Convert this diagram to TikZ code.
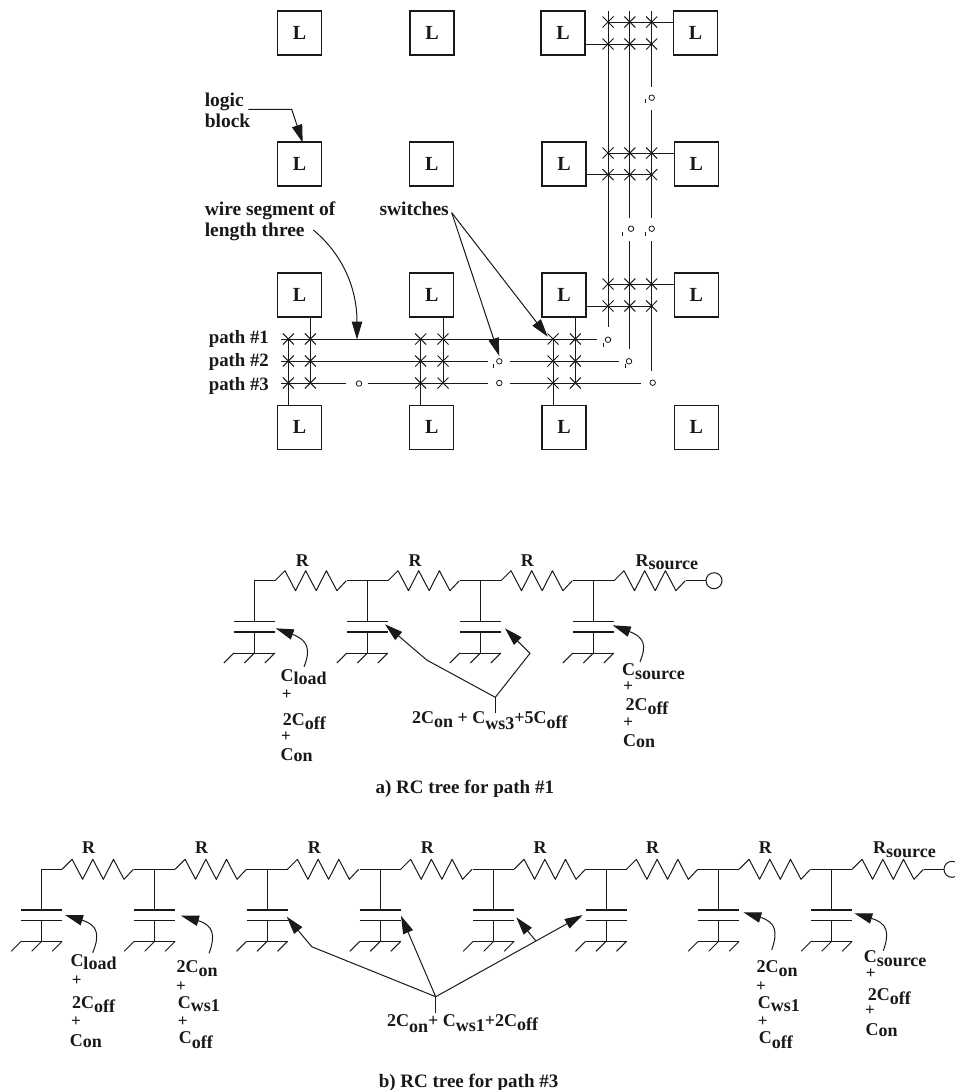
\documentclass[tikz,border=0pt]{standalone}
\usepackage{fontspec}
\setmainfont{Liberation Serif}
\usetikzlibrary{arrows.meta}
\newcommand{\dn}[2]{\lower #1pt\hbox{#2}}
\newcommand{\fs}[1]{\fontsize{#1}{#1}\selectfont\bfseries}
\tikzset{
  x=1pt,y=-1pt,
  lblock/.style={draw,line width=1.1pt,minimum size=44pt,inner sep=0pt,font=\fs{20}},
  lab/.style={anchor=base west,inner sep=0pt,font=\fs{18}},
  big/.style={anchor=base west,inner sep=0pt,font=\fs{19.5}},
  plus/.style={inner sep=0pt,font=\fs{17}},
  rlab/.style={inner sep=0pt,font=\fs{18},anchor=base},
  sw/.style={circle,draw,line width=0.8pt,minimum size=5.5pt,inner sep=0pt},
  hd/.style={-{Stealth[length=18pt,width=10.5pt,inset=0pt]}},
  term/.style={circle,draw,line width=1pt,minimum size=16pt,inner sep=0pt},
}
\newcommand{\xsw}[2]{\draw (#1-5.5,#2-5.5) -- (#1+5.5,#2+5.5) (#1-5.5,#2+5.5) -- (#1+5.5,#2-5.5);}
\newcommand{\tck}[2]{\draw (#1,#2) -- (#1,#2+4);}
\newcommand{\res}[2]{\draw[line join=round] (#1,#2) -- ++(10,-10) -- ++(10.5,20) -- ++(10.2,-20) -- ++(10.5,20) -- ++(10.2,-20) -- ++(10.5,20) -- ++(9.4,-10);}
% x, wire y, top plate y
\newcommand{\capg}[3]{%
  \draw (#1,#2) -- (#1,#3);
  \draw[line width=1.2pt] (#1-20.5,#3) -- (#1+20.5,#3);
  \draw[line width=1.2pt] (#1-20.5,#3+10.3) -- (#1+20.5,#3+10.3);
  \draw (#1,#3+10.3) -- (#1,#3+31.3);
  \draw (#1-20.5,#3+31.3) -- (#1+20.5,#3+31.3);
  \foreach \dx in {-20.5,0,20.5} \draw (#1+\dx,#3+31.3) -- ++(-10,10);
}
\begin{document}
\begin{tikzpicture}[line width=1pt,color=black!90]
\useasboundingbox (0,0) rectangle (954,1090);
% logic blocks
\foreach \n/\cx/\cy in {a1/299.5/33,a2/432/33,a3/563/33,a4/695.5/33,
  b1/299.5/164,b2/431.7/164,b3/564/164,b4/696.3/164,
  c1/299.5/295,c2/431.9/295,c3/564/295,c4/696.3/295,
  d1/299.5/427.3,d2/431.9/427.3,d3/564/427.3,d4/696.3/427.3}
  \node[lblock] (\n) at (\cx,\cy) {L};
% horizontal tracks
\coordinate (ps) at (281,339);
\coordinate (p1e) at (596.7,339);
\node[sw] (s1) at (608,339.7) {};
\node[sw] (s2a) at (499.3,361.3) {};
\node[sw] (s2b) at (629,361.3) {};
\node[sw] (s3a) at (359,383.5) {};
\node[sw] (s3b) at (499.3,383) {};
\node[sw] (s3c) at (652.7,382.7) {};
\node[sw] (v1) at (651.7,97.7) {};
\node[sw] (v2) at (631,228.7) {};
\node[sw] (v3) at (651.7,228.7) {};
\draw (281,339) -- (p1e);
\draw (281,361) -- (488.3,361) (510,361) -- (619,361);
\draw (281,383) -- (345.7,383) (368,383) -- (488.3,383) (510,383) -- (641,383);
% verticals at the horizontal channel
\foreach \xa/\xb/\bx/\tx in {288.3/310.3/d1/c1,420.7/443/d2/c2,553/575.3/d3/c3}{
  \draw (\xa,339) -- (\bx.north -| \xa,405);
  \draw (\tx.south -| \xb,317) -- (\xb,383);
  \foreach \yy in {339,361,383}{\xsw{\xa}{\yy}\xsw{\xb}{\yy}}
}
% vertical tracks
\draw (608,11) -- (608,327.3);
\draw (629.8,11) -- (629.8,218.3) (629.8,240.7) -- (629.8,349.3);
\draw (651.7,11) -- (651.7,87.3) (651.7,110) -- (651.7,218.3) (651.7,240.7) -- (651.7,371);
\foreach \ya/\yb/\lb/\rb in {22/44/a3/a4,153/174.7/b3/b4,284/306/c3/c4}{
  \draw (608,\ya) -- (\rb.west |- 0,\ya);
  \draw (\lb.east |- 0,\yb) -- (651.7,\yb);
  \foreach \xx in {608,629.8,651.7}{\xsw{\xx}{\ya}\xsw{\xx}{\yb}}
}
\tck{603.3}{342.7}\tck{625.3}{364.3}\tck{493}{364.3}
\tck{645}{99.3}\tck{622.7}{231.7}\tck{645}{231.7}
% labels top
\node[big] (tl1) at (204.3,106) {logic};
\node[big] (tl2) at (204.3,127.7) {block};
\node[big] (tw1) at (204.3,215) {wire segment of};
\node[big] (tw2) at (204.3,236.7) {length three};
\node[big] (tsw) at (379,215) {switches};
\node[lab,font=\fs{18.8}] (p1) at (208.3,343.3) {path \#1};
\node[lab,font=\fs{18.8}] (p2) at (208.3,366) {path \#2};
\node[lab,font=\fs{18.8}] (p3) at (208.3,390) {path \#3};
\coordinate (la) at (248.3,109.3);
\coordinate (tlb) at (302.7,142.7);
\draw[hd] (la) -- (291.7,109.3) -- (tlb);
\coordinate (wa) at (313.3,230);
\coordinate (twe) at (357,339.5);
\draw[hd] (wa) .. controls (340,252) and (357,285) .. (twe);
\coordinate (sa) at (451.7,212.7);
\coordinate (sb) at (499.3,356);
\coordinate (sc) at (547.7,336.7);
\draw[hd] (sa) -- (sb);
\draw[hd] (sa) -- (sc);
% ---- RC tree a
\draw (254.3,580.7) -- (275,580.7);
\foreach \x in {254.3,367.3,480.3,593.3}{
  \capg{\x}{580.7}{621.7}
  \res{\x+20.7}{580.7}
}
\foreach \x in {367.3,480.3,593.3}\draw (\x-20.6,580.7) -- (\x+20.7,580.7);
\node[term] (ta) at (714,580.7) {};
\draw (685.8,580.7) -- (ta.west);
\node[rlab] (ra1) at (302.3,566.7) {R};
\node[rlab] (ra2) at (415,566.7) {R};
\node[rlab] (ra3) at (527.3,566.7) {R};
\node[lab] (ra4) at (635,566.7) {R\dn{3}{source}};
\coordinate (a1s) at (304,666.7);
\coordinate (a1t) at (275.7,628.3);
\draw[hd] (a1s) .. controls (311,650) and (308,640) .. (a1t);
\coordinate (a4s) at (640,661.7);
\coordinate (a4t) at (612.7,625.3);
\draw[hd] (a4s) .. controls (647,645) and (644,637) .. (a4t);
\coordinate (ar) at (495.3,697.3);
\coordinate (ars) at (495.3,713.3);
\coordinate (at1) at (385,624.3);
\coordinate (at2) at (505,628.3);
\draw (ars) -- (ar);
\draw[hd] (ar) -- (426.7,660) -- (at1);
\draw[hd] (ar) -- (530,653.3) -- (at2);
\node[lab] (acl) at (280,681.7) {C\dn{3}{load}};
\node[plus] at (286.7,695) {+};
\node[lab] (a2c) at (282.3,725.5) {2C\dn{4}{off}};
\node[plus] at (286,736.7) {+};
\node[lab] (acn) at (280,760) {C\dn{1}{on}};
\node[lab] (aroot) at (411.7,723.3) {2C\dn{4}{on} + C\dn{6}{ws3}+5C\dn{5}{off}};
\node[lab] (acs) at (621.7,675) {C\dn{4}{source}};
\node[plus] at (628.3,686.7) {+};
\node[lab] (a2d) at (625,710) {2C\dn{4}{off}};
\node[plus] at (628.3,722.7) {+};
\node[lab] (acm) at (622.7,746.7) {C\dn{1}{on}};
\node[lab,font=\fs{19}] (capa) at (375,793.5) {a) RC tree for path \#1};
% ---- RC tree b
\draw (41.7,869.3) -- (62,869.3);
\foreach \x in {41.7,154.7,267,380.3,493.7,606,718.7,831.7}{
  \capg{\x}{869.3}{910}
  \res{\x+20.4}{869.3}
}
\foreach \x in {154.7,267,380.3,493.7,606,718.7,831.7}\draw (\x-20.6,869.3) -- (\x+20.7,869.3);
\node[term] (tb) at (952,869.3) {};
\draw (924.3,869.3) -- (tb.west);
\foreach \n/\x in {rb1/88.7,rb2/201.7,rb3/314.3,rb4/427.3,rb5/540,rb6/652.7,rb7/765.3}
  \node[rlab] (\n) at (\x,853.3) {R};
\node[lab] (rb8) at (872.7,853.3) {R\dn{4}{source}};
\coordinate (b1s) at (92.7,952.7);
\coordinate (b1t) at (65,915);
\draw[hd] (b1s) .. controls (100,935) and (98,925) .. (b1t);
\coordinate (b2s) at (209,953.3);
\coordinate (b2t) at (181,915.7);
\draw[hd] (b2s) .. controls (216,935) and (213,925) .. (b2t);
\coordinate (b7s) at (771.7,950);
\coordinate (b7t) at (743.3,912.3);
\draw[hd] (b7s) .. controls (778,932) and (776,922) .. (b7t);
\coordinate (b8s) at (883.3,950.7);
\coordinate (b8t) at (854.3,913.3);
\draw[hd] (b8s) .. controls (890,932) and (887,923) .. (b8t);
\coordinate (br) at (435.7,996.7);
\coordinate (brs) at (435.7,1013.3);
\coordinate (bt1) at (286.7,916.7);
\coordinate (bt2) at (401,915.7);
\coordinate (bt3) at (582.7,915);
\coordinate (bm) at (535.7,940.7);
\coordinate (bt4) at (516.3,917.3);
\draw (brs) -- (br);
\draw[hd] (br) -- (311.7,946.7) -- (bt1);
\draw[hd] (br) -- (bt2);
\draw[hd] (br) -- (bt3);
\draw[hd] (bm) -- (bt4);
\node[lab] (bcl) at (70,966.7) {C\dn{3}{load}};
\node[plus] at (76.7,980.7) {+};
\node[lab] (b2c) at (71.7,1008) {2C\dn{4}{off}};
\node[plus] at (76,1021.7) {+};
\node[lab] (bcn) at (69.3,1046.7) {C\dn{1}{on}};
\node[lab] (c2a) at (176,972.3) {2C\dn{4}{on}};
\node[plus] at (181,986.7) {+};
\node[lab] (c3a) at (177.3,1008.3) {C\dn{3}{ws1}};
\node[plus] at (182.7,1021.7) {+};
\node[lab] (c4a) at (178.3,1043) {C\dn{5}{off}};
\node[lab] (c2b) at (756,972.3) {2C\dn{4}{on}};
\node[plus] at (761,986.7) {+};
\node[lab] (c3b) at (757.3,1008.3) {C\dn{3}{ws1}};
\node[plus] at (762.7,1021.7) {+};
\node[lab] (c4b) at (758.3,1043) {C\dn{5}{off}};
\node[lab] (d1b) at (863.3,962.7) {C\dn{4}{source}};
\node[plus] at (870.7,974) {+};
\node[lab] (d2b) at (867.3,1000) {2C\dn{4}{off}};
\node[plus] at (870,1010.7) {+};
\node[lab] (d3b) at (865,1035) {C\dn{1}{on}};
\node[lab] (broot) at (386.7,1026.7) {2C\dn{6}{on}+ C\dn{5}{ws1}+2C\dn{4}{off}};
\node[lab,font=\fs{19}] (capb) at (378.3,1087) {b) RC tree for path \#3};
\end{tikzpicture}
\end{document}
